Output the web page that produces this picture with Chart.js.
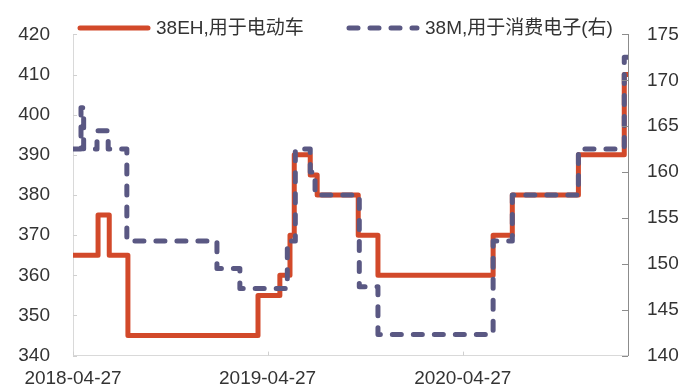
<!DOCTYPE html>
<html>
<head>
<meta charset="utf-8">
<script src="https://cdn.jsdelivr.net/npm/chart.js@4/dist/chart.umd.min.js"></script>
<style>
  html, body { margin: 0; padding: 0; background: #fff; }
  #wrap { width: 684px; height: 390px; }
</style>
</head>
<body>
<div id="wrap"><canvas id="priceChart"></canvas></div>
<script>
// 38EH (left axis) - dates where the price changes, and the new price
const ehDates = ['2018-04-27', '2018-06-13', '2018-07-04', '2018-08-08', '2019-04-09', '2019-05-20',
    '2019-06-08', '2019-06-16', '2019-07-16', '2019-07-29', '2019-10-14', '2019-11-20',
    '2020-06-23', '2020-07-29', '2020-11-30', '2021-02-24', '2021-03-03'];
const ehValues = [365, 375, 365, 345, 355, 360, 370, 390, 385, 380, 370, 360, 370, 380, 390, 410, 410];

// 38M (right axis)
const mDates = ['2018-04-27', '2018-05-12', '2018-05-17', '2018-06-11', '2018-07-02', '2018-08-06',
    '2019-01-22', '2019-03-06', '2019-06-03', '2019-06-18', '2019-07-16', '2019-07-25',
    '2019-10-16', '2019-11-20', '2020-06-23', '2020-07-29', '2020-11-30', '2021-02-24', '2021-03-03'];
const mValues = [162.5, 167, 162.5, 164.5, 162.5, 152.5, 149.5, 147.3, 152.5, 162.5, 160, 157.5,
    147.5, 142.3, 152.5, 157.5, 162.5, 172.5, 172.5];

const xTickLabels = ['2018-04-27', '2019-04-27', '2020-04-27'];
const seriesNames = ['38EH,用于电动车', '38M,用于消费电子(右)'];

const baseDate = '2018-04-27';
const FONT = "'Liberation Sans', 'Noto Sans CJK SC', Arial, sans-serif";
const RED = '#d2492a';
const SLATE = '#5a5883';

function dayOf(d) {
    return Math.round((Date.parse(d) - Date.parse(baseDate)) / 86400000);
}
function toPoints(dates, values) {
    return dates.map((d, i) => ({ x: dayOf(d), y: values[i] }));
}
const lastDay = dayOf(ehDates[ehDates.length - 1]);
const xTickValues = xTickLabels.map(dayOf);

// legend drawn inside the plot, like the original
const inlineLegend = {
    id: 'inlineLegend',
    afterDatasetsDraw(chart) {
        const ctx = chart.ctx;
        const y = 28;
        const items = [
            { x: 78, w: 72, color: RED, dash: [], text: seriesNames[0] },
            { x: 347, w: 72, color: SLATE, dash: [9, 12], text: seriesNames[1] }
        ];
        ctx.save();
        items.forEach(it => {
            ctx.beginPath();
            ctx.strokeStyle = it.color;
            ctx.lineWidth = 5;
            ctx.lineCap = 'round';
            ctx.setLineDash(it.dash);
            ctx.moveTo(it.x + 2, y);
            ctx.lineTo(it.x + it.w - 2, y);
            ctx.stroke();
            ctx.setLineDash([]);
            ctx.fillStyle = '#333';
            ctx.font = '19px ' + FONT;
            ctx.textBaseline = 'middle';
            ctx.fillText(it.text, it.x + it.w + 6, y + 1);
        });
        ctx.restore();
    }
};

// short tick marks pointing into the plot
const innerTicks = {
    id: 'innerTicks',
    afterDraw(chart) {
        const ctx = chart.ctx;
        const a = chart.chartArea;
        ctx.save();
        ctx.lineWidth = 1;
        ctx.strokeStyle = '#d0d0d0';
        chart.scales.y.ticks.forEach(t => {
            const py = Math.round(chart.scales.y.getPixelForValue(t.value)) + 0.5;
            ctx.beginPath(); ctx.moveTo(a.left, py); ctx.lineTo(a.left + 4, py); ctx.stroke();
        });
        chart.scales.x.ticks.forEach(t => {
            const px = Math.round(chart.scales.x.getPixelForValue(t.value)) + 0.5;
            ctx.beginPath(); ctx.moveTo(px, a.bottom); ctx.lineTo(px, a.bottom - 4); ctx.stroke();
        });
        ctx.strokeStyle = '#8c8c8c';
        chart.scales.y1.ticks.forEach(t => {
            const py = Math.round(chart.scales.y1.getPixelForValue(t.value)) + 0.5;
            ctx.beginPath(); ctx.moveTo(a.right, py); ctx.lineTo(a.right - 6, py); ctx.stroke();
        });
        ctx.restore();
    }
};

const tickFont = { family: FONT, size: 19 };

new Chart(document.getElementById('priceChart'), {
    type: 'line',
    data: {
        datasets: [{
            label: seriesNames[0],
            data: toPoints(ehDates, ehValues),
            yAxisID: 'y',
            borderColor: RED,
            borderWidth: 5,
            stepped: true,
            pointRadius: 0,
            borderJoinStyle: 'round',
            fill: false,
            order: 2
        }, {
            label: seriesNames[1],
            data: toPoints(mDates, mValues),
            yAxisID: 'y1',
            borderColor: SLATE,
            borderWidth: 5,
            borderDash: [9, 12],
            borderCapStyle: 'round',
            borderJoinStyle: 'round',
            stepped: true,
            pointRadius: 0,
            fill: false,
            order: 1
        }]
    },
    options: {
        responsive: true,
        maintainAspectRatio: false,
        animation: false,
        layout: { padding: { top: 22, left: 0, right: 0, bottom: 0 } },
        plugins: { legend: { display: false }, tooltip: { enabled: false } },
        scales: {
            x: {
                type: 'linear',
                min: 0,
                max: lastDay,
                afterBuildTicks: s => { s.ticks = xTickValues.map(v => ({ value: v })); },
                afterFit: s => { s.height = 34; },
                grid: { display: false, drawTicks: false },
                border: { display: true, color: '#d9d9d9', width: 1 },
                ticks: {
                    padding: 12,
                    maxRotation: 0,
                    autoSkip: false,
                    color: '#333',
                    font: tickFont,
                    callback: v => xTickLabels[xTickValues.indexOf(v)] || ''
                }
            },
            y: {
                position: 'left',
                min: 340,
                max: 420,
                afterFit: s => { s.width = 73; },
                grid: { display: false, drawTicks: false },
                border: { display: true, color: '#d9d9d9', width: 1 },
                ticks: { stepSize: 10, padding: 23, color: '#333', font: tickFont }
            },
            y1: {
                position: 'right',
                min: 140,
                max: 175,
                afterFit: s => { s.width = 56; },
                grid: { display: false, drawTicks: false },
                border: { display: true, color: '#8c8c8c', width: 1 },
                ticks: { stepSize: 5, padding: 19, color: '#333', font: tickFont }
            }
        }
    },
    plugins: [inlineLegend, innerTicks]
});
</script>
</body>
</html>
